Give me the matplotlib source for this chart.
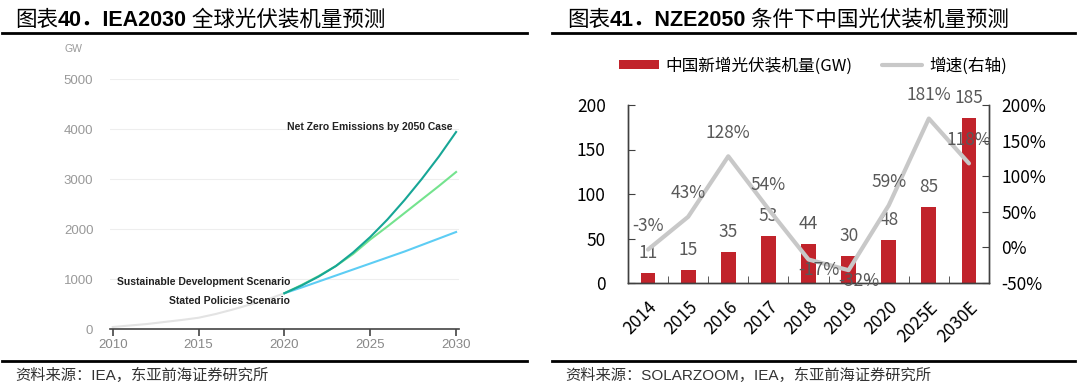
import matplotlib
matplotlib.use("Agg")
import matplotlib.pyplot as plt
from matplotlib.lines import Line2D
from matplotlib.patches import Patch
from matplotlib.ticker import FuncFormatter, FixedLocator

# --- dados: IEA (GW acumulado) ---
hist_years = [2010, 2011, 2012, 2013, 2014, 2015, 2016, 2017, 2018, 2019, 2020]
hist_gw = [40, 70, 100, 140, 180, 225, 300, 390, 490, 590, 715]
proj_years = [2020, 2021, 2022, 2023, 2024, 2025, 2026, 2027, 2028, 2029, 2030]
nze_gw = [715, 870, 1050, 1260, 1530, 1840, 2190, 2580, 3000, 3450, 3940]
sds_gw = [715, 880, 1060, 1260, 1500, 1790, 2050, 2320, 2590, 2860, 3140]
steps_gw = [715, 830, 950, 1070, 1190, 1310, 1430, 1550, 1680, 1810, 1940]

# --- dados: China novos GW e crescimento ---
cats = ["2014", "2015", "2016", "2017", "2018", "2019", "2020", "2025E", "2030E"]
new_gw = [11, 15, 35, 53, 44, 30, 48, 85, 185]
growth = [-3, 43, 128, 54, -17, -32, 59, 181, 118]

W, H = 1080, 390
fig = plt.figure(figsize=(W / 100, H / 100), dpi=100)

CJK = ["Noto Sans CJK SC", "DejaVu Sans"]
LAT_B = ["Liberation Sans", "Noto Sans CJK SC"]
FS = 12.5  # fonte do painel direito


def fx(px):
    return px / W


def fy(py):
    return 1 - py / H


def titulo(ax, x, y, partes):
    prev = None
    for txt, fam, wt in partes:
        if prev is None:
            prev = fig.text(fx(x), fy(y), txt, family=fam, fontweight=wt,
                            fontsize=15.5, va="center", ha="left")
        else:
            prev = ax.annotate(txt, xy=(1, 0.5), xycoords=prev, family=fam,
                               fontweight=wt, fontsize=15.5, va="center", ha="left")


# linhas pretas de cabeçalho / rodapé
for x0, x1 in [(2, 527), (552, 1075)]:
    for yy in [33, 361]:
        fig.add_artist(Line2D([fx(x0), fx(x1)], [fy(yy), fy(yy)],
                              transform=fig.transFigure, color="black", lw=2))

# ================= painel esquerdo =================
ax1 = fig.add_axes([fx(110), fy(329), fx(459) - fx(110), fy(79) - fy(329)])
ax1.set_xlim(2009.84, 2030.17)
ax1.set_ylim(0, 5000)
ax1.plot(hist_years, hist_gw, color="#e3e3e3", lw=1.5)
ax1.plot(proj_years, steps_gw, color="#5dcdf4", lw=1.5)
ax1.plot(proj_years, sds_gw, color="#74e38e", lw=1.5)
ax1.plot(proj_years, nze_gw, color="#17a696", lw=1.5)

for s in ["top", "right", "left"]:
    ax1.spines[s].set_visible(False)
ax1.spines["bottom"].set_color("#444444")
ax1.spines["bottom"].set_linewidth(1.2)
ax1.set_xticks([2010, 2015, 2020, 2025, 2030])
ax1.set_yticks([0, 1000, 2000, 3000, 4000, 5000])
ax1.yaxis.grid(True, color="#eeeeee", lw=0.8)
ax1.set_axisbelow(True)
ax1.tick_params(axis="x", length=5, width=1.2, color="#444444", labelsize=9.5,
                labelcolor="#888888", pad=2)
ax1.tick_params(axis="y", length=0, labelsize=9.5, labelcolor="#999999", pad=12)
for lab in ax1.get_xticklabels() + ax1.get_yticklabels():
    lab.set_family("Liberation Sans")

fig.text(fx(73), fy(49), "GW", fontsize=7.5, color="#999999",
         family="Liberation Sans", ha="center", va="center")
ax1.text(2029.82, 4040, "Net Zero Emissions by 2050 Case", ha="right", va="center",
         fontsize=7.5, fontweight="bold", color="#222222", family="Liberation Sans")
ax1.text(2020.33, 940, "Sustainable Development Scenario", ha="right", va="center",
         fontsize=7.5, fontweight="bold", color="#222222", family="Liberation Sans")
ax1.text(2020.33, 560, "Stated Policies Scenario", ha="right", va="center",
         fontsize=7.5, fontweight="bold", color="#222222", family="Liberation Sans")

titulo(ax1, 15, 20, [("图表", CJK, "normal"), ("40．IEA2030", LAT_B, "bold"),
                     (" 全球光伏装机量预测", CJK, "normal")])
fig.text(fx(15), fy(375), "资料来源：IEA，东亚前海证券研究所",
         family=["Liberation Sans", "Noto Sans CJK SC"],
         fontsize=11, color="#333333", va="center")

# ================= painel direito =================
ax2 = fig.add_axes([fx(628), fy(283), fx(989) - fx(628), fy(105) - fy(283)])
ax3 = ax2.twinx()
x = list(range(len(cats)))
ax2.bar(x, new_gw, width=0.37, color="#c1232b", zorder=2)
ax2.set_xlim(-0.5, len(cats) - 0.5)
ax2.set_ylim(0, 200)
ax2.set_yticks([0, 50, 100, 150, 200])
ax2.set_xticks(x)
ax2.set_xticklabels(cats, rotation=45, ha="right", rotation_mode="anchor")
ax2.xaxis.set_minor_locator(FixedLocator([i + 0.5 for i in range(len(cats) - 1)]))
ax2.tick_params(axis="x", which="major", length=0, pad=11)
ax2.tick_params(axis="x", which="minor", direction="in", length=5, color="#404040")
ax2.tick_params(axis="y", direction="in", length=5, color="#404040", pad=16)

ax3.plot(x, growth, color="#c8c8c8", lw=3, solid_capstyle="round", zorder=3)
ax3.set_ylim(-50, 200)
ax3.set_yticks([-50, 0, 50, 100, 150, 200])
ax3.yaxis.set_major_formatter(FuncFormatter(lambda v, p: f"{v:.0f}%"))
ax3.tick_params(axis="y", direction="in", length=5, color="#404040", pad=9)

for a in (ax2, ax3):
    a.spines["top"].set_visible(False)
    for s in ["left", "right", "bottom"]:
        a.spines[s].set_color("#404040")
        a.spines[s].set_linewidth(1)
    for lab in a.get_xticklabels() + a.get_yticklabels():
        lab.set_family(CJK)
        lab.set_fontsize(FS)
        lab.set_color("#000000")

for i, v in enumerate(new_gw):
    ax2.annotate(str(v), (i, v), xytext=(0, 14.5), textcoords="offset points",
                 ha="center", va="center", fontsize=FS, color="#595959", family=CJK)
for i, v in enumerate(growth):
    off = (7.5, -7.5) if v < -10 else (0, 17)
    ax3.annotate(f"{v}%", (i, v), xytext=off, textcoords="offset points",
                 ha="center", va="center", fontsize=FS, color="#595959", family=CJK,
                 zorder=4)

handles = [Patch(facecolor="#c1232b", edgecolor="none"),
           Line2D([0], [0], color="#c8c8c8", lw=3, solid_capstyle="round")]
leg = ax2.legend(handles, ["中国新增光伏装机量(GW)", "增速(右轴)"], loc="center",
                 bbox_to_anchor=(0.512, 1.22), ncol=2, frameon=False,
                 prop={"family": CJK, "size": 12}, handlelength=2.4,
                 handleheight=0.5, columnspacing=1.8, handletextpad=0.4)

titulo(ax2, 567, 20, [("图表", CJK, "normal"), ("41．NZE2050", LAT_B, "bold"),
                      (" 条件下中国光伏装机量预测", CJK, "normal")])
fig.text(fx(565), fy(375), "资料来源：SOLARZOOM，IEA，东亚前海证券研究所",
         family=["Liberation Sans", "Noto Sans CJK SC"],
         fontsize=11, color="#333333", va="center")

fig.savefig("out.png", dpi=100)
